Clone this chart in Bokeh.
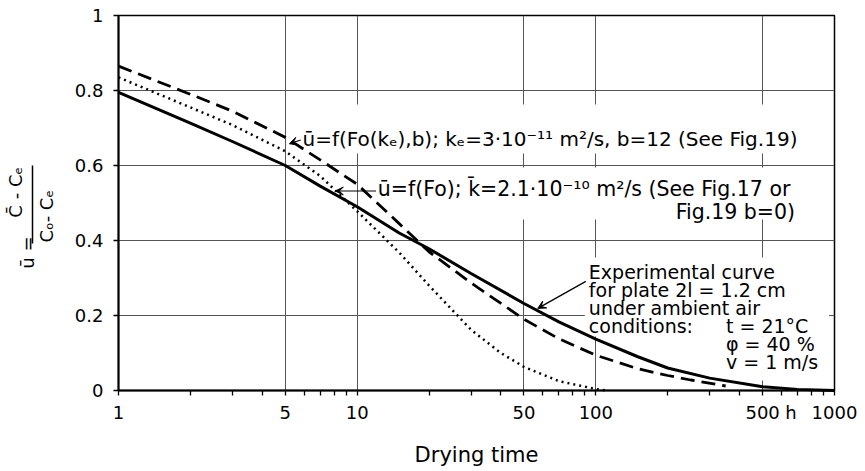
from math import pi
from bokeh.plotting import figure
from bokeh.layouts import row
from bokeh.models import Range1d, FixedTicker, Label, Arrow, VeeHead, BoxAnnotation
from bokeh.core.properties import value
from bokeh.embed import file_html
from bokeh.resources import INLINE

FONT = "DejaVu Sans"

# ---------------- data ----------------
time_exp = [1, 2, 3, 5, 7, 10, 15, 20, 30, 50, 70, 100, 150, 200, 300, 500, 700, 1000]
u_exp = [0.795, 0.713, 0.664, 0.60, 0.545, 0.49, 0.42, 0.378, 0.312, 0.232, 0.183,
         0.137, 0.09, 0.06, 0.033, 0.01, 0.003, 0.0]

time_ke = [1, 2, 3, 5, 7, 10, 15, 20, 30, 50, 70, 100, 150, 200, 250, 350]
u_ke = [0.865, 0.79, 0.745, 0.675, 0.615, 0.55, 0.445, 0.37, 0.287, 0.19, 0.138,
        0.094, 0.058, 0.04, 0.028, 0.012]

time_fo = [1, 2, 3, 5, 7, 10, 15, 20, 30, 40, 50, 70, 100, 110]
u_fo = [0.835, 0.755, 0.708, 0.638, 0.572, 0.478, 0.368, 0.28, 0.162, 0.10, 0.063,
        0.025, 0.004, 0.0]

x_ticks = [1, 5, 10, 50, 100, 500, 657, 1000]
x_tick_labels = ["1", "5", "10", "50", "100", "500", "h", "1000"]
x_grid = [5, 10, 50, 100, 500]
x_tick_marks = [1, 2, 3, 4, 5, 6, 7, 8, 9, 10, 20, 30, 40, 50, 60, 70, 80, 90, 100,
                200, 300, 400, 500, 600, 700, 800, 900, 1000]
y_ticks = [0, 0.2, 0.4, 0.6, 0.8, 1.0]
y_tick_labels = ["0", "0.2", "0.4", "0.6", "0.8", "1"]

yr = Range1d(0, 1)

# ---------------- main figure ----------------
p = figure(width=795, height=471, x_axis_type="log",
           x_range=Range1d(1, 1000), y_range=yr,
           output_backend="svg", toolbar_location=None,
           min_border_left=48, min_border_right=31,
           min_border_top=15, min_border_bottom=81)
p.background_fill_color = "white"
p.border_fill_color = "white"
p.outline_line_color = "black"
p.outline_line_width = 1.5

p.xaxis.ticker = FixedTicker(ticks=x_ticks, minor_ticks=x_tick_marks)
p.yaxis.ticker = FixedTicker(ticks=y_ticks)
p.xaxis.major_label_overrides = dict(zip(x_ticks, x_tick_labels))
p.yaxis.major_label_overrides = dict(zip(y_ticks, y_tick_labels))
p.xgrid.ticker = FixedTicker(ticks=x_grid)

for ax in (p.xaxis, p.yaxis):
    ax.axis_line_color = "black"
    ax.axis_line_width = 2
    ax.major_tick_line_color = "black"
    ax.major_tick_line_width = 1.5
    ax.major_tick_in = 0
    ax.major_label_text_font = FONT
    ax.major_label_text_font_size = "18px"
    ax.major_label_text_color = "black"

p.xaxis.major_tick_line_color = None
p.xaxis.major_tick_out = 5
p.xaxis.minor_tick_out = 5
p.xaxis.minor_tick_in = 0
p.xaxis.minor_tick_line_color = "black"
p.xaxis.minor_tick_line_width = 1.3
p.xaxis.major_label_standoff = 6
p.yaxis.major_tick_out = 5
p.yaxis.minor_tick_line_color = None
p.yaxis.major_label_standoff = 10

p.xaxis.axis_label = "Drying time"
p.xaxis.axis_label_text_font = FONT
p.xaxis.axis_label_text_font_size = "21px"
p.xaxis.axis_label_text_font_style = "normal"
p.xaxis.axis_label_text_color = "black"
p.xaxis.axis_label_standoff = 17

p.xgrid.grid_line_color = "#555555"
p.ygrid.grid_line_color = "#555555"
p.xgrid.grid_line_width = 1
p.ygrid.grid_line_width = 1

# white gaps in the grid behind the lettering
for l, r, t, b in [(5.68, 767, 0.763, 0.632), (11.84, 795, 0.595, 0.456),
                   (89.9, 948, 0.355, 0.144), (328, 948, 0.144, 0.027)]:
    p.add_layout(BoxAnnotation(left=l, right=r, top=t, bottom=b,
                               fill_color="white", fill_alpha=1, line_color=None))

# ---------------- curves ----------------
p.line(time_exp, u_exp, line_color="black", line_width=3, level="overlay")
p.line(time_ke, u_ke, line_color="black", line_width=2.8, line_dash="14 7", level="overlay")
p.line(time_fo, u_fo, line_color="black", line_width=2.5, line_dash="2 4", level="overlay")

# ---------------- annotations ----------------
def lab(x, y, text, align="left", size="20px"):
    p.add_layout(Label(x=x, y=y, text=text, text_align=align, text_baseline="middle",
                       text_font=FONT, text_font_size=size, text_color="black"))

def arrow(x0, y0, x1, y1):
    p.add_layout(Arrow(x_start=x0, y_start=y0, x_end=x1, y_end=y1,
                       line_color="black", line_width=1.2,
                       end=VeeHead(size=8, fill_color="black", line_color="black")))

lab(5.9, 0.67, "ū=f(Fo(kₑ),b);  kₑ=3·10⁻¹¹ m²/s, b=12 (See Fig.19)")
arrow(5.8, 0.668, 5.2, 0.658)

lab(12.2, 0.538, "ū=f(Fo);  k̄=2.1·10⁻¹⁰ m²/s (See Fig.17 or", size="20.5px")
lab(775, 0.475, "Fig.19   b=0)", align="right", size="20.5px")
arrow(12.0, 0.532, 8.1, 0.532)

lab(93.5, 0.315, "Experimental curve", size="19px")
lab(93.5, 0.267, "for plate 2l = 1.2 cm", size="19px")
lab(93.5, 0.219, "under ambient air", size="19px")
lab(93.5, 0.171, "conditions:", size="19px")
lab(351, 0.171, "t = 21°C", size="19px")
lab(351, 0.123, "φ = 40 %", size="19px")
lab(351, 0.075, "v = 1 m/s", size="19px")
arrow(90.8, 0.291, 57.1, 0.219)

# ---------------- y-axis title panel: u = (C - Ce)/(Co - Ce) ----------------
q = figure(width=70, height=471, x_range=Range1d(0, 70), y_range=yr,
           output_backend="svg", toolbar_location=None,
           min_border_left=0, min_border_right=0,
           min_border_top=15, min_border_bottom=81,
           x_axis_location=None, y_axis_location=None)
q.grid.visible = False
q.outline_line_color = None
q.background_fill_color = "white"
q.border_fill_color = "white"
ylab_parts = ["ū =", "C̄ - Cₑ", "Cₒ- Cₑ"]
# anchors at the lower end of each (rotated) text
q.text(x=[27, 15, 46], y=[0.325, 0.461, 0.395], text=ylab_parts, angle=pi / 2,
       text_align="left", text_baseline="middle", text_font=value(FONT),
       text_font_size="18px", text_color="black")
q.segment(x0=[32], y0=[0.6], x1=[32], y1=[0.392], line_color="black", line_width=1.5)

layout = row(q, p)
open("out.html", "w").write(file_html(layout, INLINE))
